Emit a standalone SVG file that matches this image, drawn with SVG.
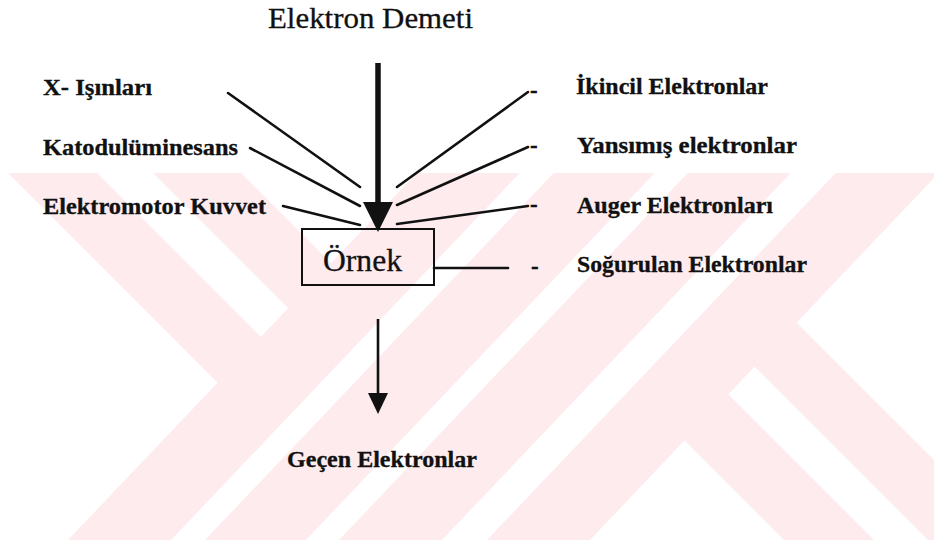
<svg xmlns="http://www.w3.org/2000/svg" width="934" height="540" viewBox="0 0 934 540">
  <style>
    .wm { fill: #fdebee; }
    .lbl { font-family: "Liberation Serif", "Times New Roman", serif; font-size: 23px; font-weight: bold; fill: #111; stroke: #111; stroke-width: 0.3; }
    .ttl { font-family: "Liberation Serif", "Times New Roman", serif; fill: #111; stroke: #111; stroke-width: 0.3; }
    .ray { stroke: #111; stroke-width: 2.6; fill: none; stroke-linecap: round; }
    .box { fill: none; stroke: #111; stroke-width: 2; }
  </style>
  <defs>
    <clipPath id="wmClip"><rect x="0" y="173" width="934" height="367"/></clipPath>
    <marker id="headBig" markerUnits="userSpaceOnUse" markerWidth="30" markerHeight="30" refX="0" refY="15" orient="auto">
      <path d="M0,0 L30,15 L0,30 Z" fill="#111"/>
    </marker>
    <marker id="headSmall" markerUnits="userSpaceOnUse" markerWidth="21" markerHeight="20" refX="0" refY="10" orient="auto">
      <path d="M0,0 L21,10 L0,20 Z" fill="#111"/>
    </marker>
  </defs>

  <rect width="934" height="540" fill="#ffffff"/>

  <!-- background mark: striped diagonal bands -->
  <g id="watermark" clip-path="url(#wmClip)">
    <polygon class="wm" points="416.7,173 519.7,173 171,540 68,540"/>
    <polygon class="wm" points="553.7,173 654.7,173 306,540 205,540"/>
    <polygon class="wm" points="687.7,173 790.7,173 442,540 339,540"/>
    <polygon class="wm" points="835.7,173 938.7,173 590,540 487,540"/>
    <polygon class="wm" points="8,173 97,173 286.1,362.1 242.7,407.7"/>
    <polygon class="wm" points="153,173 241,173 356.2,288.2 313.3,333.3"/>
    <polygon class="wm" points="657.3,413.3 701.2,367.2 874,540 784,540"/>
    <polygon class="wm" points="727.5,339.5 769.4,295.4 1014,540 928,540"/>
  </g>

  <!-- connectors -->
  <g id="connectors">
    <line x1="378" y1="63" x2="378" y2="202" stroke="#111" stroke-width="5.5" marker-end="url(#headBig)"/>
    <line class="ray" x1="228" y1="93" x2="360" y2="187"/>
    <line class="ray" x1="250" y1="148" x2="360" y2="206"/>
    <line class="ray" x1="283" y1="206" x2="360" y2="225"/>
    <line class="ray" x1="397" y1="187" x2="528" y2="92"/>
    <line class="ray" x1="397" y1="205" x2="528" y2="147"/>
    <line class="ray" x1="397" y1="224" x2="528" y2="206"/>
    <line class="ray" x1="434" y1="268" x2="508" y2="268"/>
    <line x1="378" y1="319" x2="378" y2="393" stroke="#111" stroke-width="2.6" marker-end="url(#headSmall)"/>
  </g>

  <g id="beam">
    <text class="ttl" x="268" y="28" font-size="30" textLength="205" lengthAdjust="spacingAndGlyphs">Elektron Demeti</text>
  </g>

  <g id="sample">
    <rect class="box" x="302" y="229" width="132" height="56"/>
    <text class="ttl" x="323" y="271" font-size="31" textLength="79" lengthAdjust="spacingAndGlyphs">Örnek</text>
  </g>

  <g id="xrays">
    <text class="lbl" x="43" y="95" textLength="109" lengthAdjust="spacingAndGlyphs">X- Işınları</text>
  </g>
  <g id="cathodoluminescence">
    <text class="lbl" x="43" y="155" textLength="195" lengthAdjust="spacingAndGlyphs">Katodulüminesans</text>
  </g>
  <g id="emf">
    <text class="lbl" x="43" y="214" textLength="223" lengthAdjust="spacingAndGlyphs">Elektromotor Kuvvet</text>
  </g>

  <g id="secondary">
    <text class="lbl" x="530" y="97.5">-</text>
    <text class="lbl" x="576" y="94" textLength="192" lengthAdjust="spacingAndGlyphs">İkincil Elektronlar</text>
  </g>
  <g id="backscattered">
    <text class="lbl" x="530" y="152.5">-</text>
    <text class="lbl" x="577" y="153" textLength="220" lengthAdjust="spacingAndGlyphs">Yansımış elektronlar</text>
  </g>
  <g id="auger">
    <text class="lbl" x="530" y="211.5">-</text>
    <text class="lbl" x="577" y="213" textLength="196" lengthAdjust="spacingAndGlyphs">Auger Elektronları</text>
  </g>
  <g id="absorbed">
    <text class="lbl" x="531" y="273.5">-</text>
    <text class="lbl" x="577" y="272" textLength="230" lengthAdjust="spacingAndGlyphs">Soğurulan Elektronlar</text>
  </g>

  <g id="transmitted">
    <text class="lbl" x="287" y="467" textLength="190" lengthAdjust="spacingAndGlyphs">Geçen Elektronlar</text>
  </g>
</svg>
